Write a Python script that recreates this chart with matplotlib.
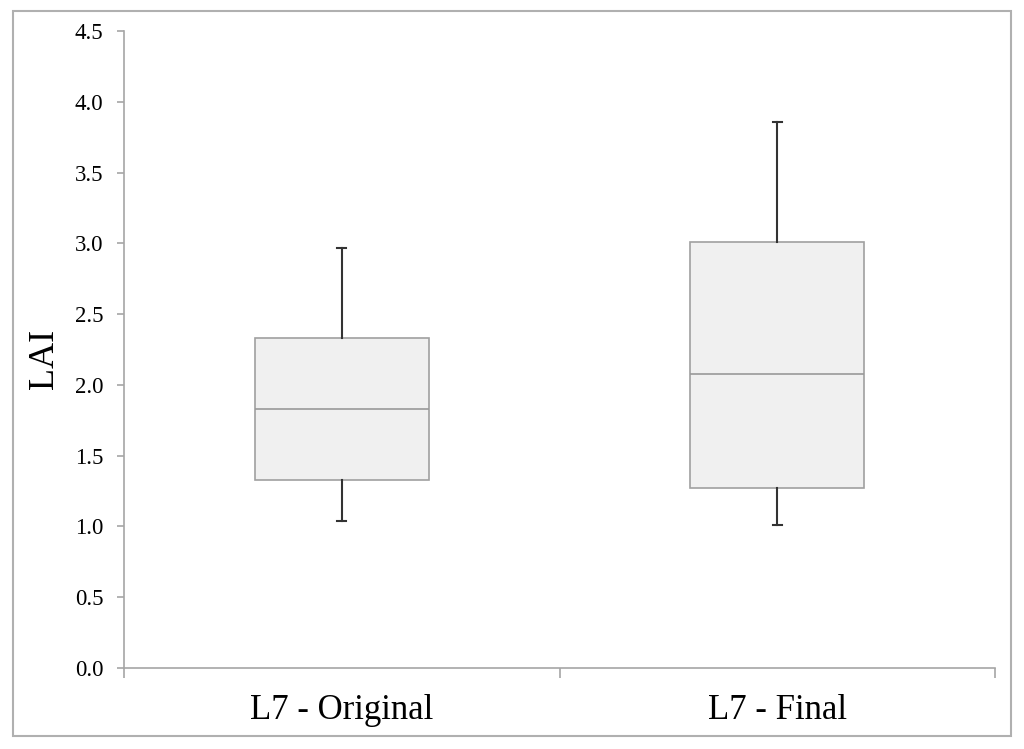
import matplotlib
matplotlib.use("Agg")
import matplotlib.pyplot as plt
from matplotlib.patches import Rectangle

plt.rcParams["font.family"] = ["Liberation Serif", "DejaVu Serif"]

# box statistics
categories = ["L7 - Original", "L7 - Final"]
whisker_low = [1.04, 1.01]
q1 = [1.33, 1.27]
median = [1.83, 2.08]
q3 = [2.33, 3.01]
whisker_high = [2.97, 3.86]

stats = []
for i, name in enumerate(categories):
    stats.append({"label": name, "whislo": whisker_low[i], "q1": q1[i],
                  "med": median[i], "q3": q3[i], "whishi": whisker_high[i],
                  "fliers": []})

fig = plt.figure(figsize=(10.24, 7.49), dpi=100)
ax = fig.add_axes([0.1211, 0.1081, 0.8506, 0.8505])

grey = "#a6a6a6"
ax.bxp(stats, positions=[1, 2], widths=0.4, capwidths=0.02, patch_artist=True,
       showfliers=False,
       boxprops=dict(facecolor="#f0f0f0", edgecolor="#a0a0a0", linewidth=1.2),
       medianprops=dict(color="#999999", linewidth=1.2),
       whiskerprops=dict(color="#333333", linewidth=1.5),
       capprops=dict(color="#333333", linewidth=1.5))

ax.set_xlim(0.5, 2.5)
ax.set_ylim(0, 4.5)
ax.set_yticks([i * 0.5 for i in range(10)])
ax.set_yticklabels(["%.1f" % (i * 0.5) for i in range(10)], fontsize=16.5)
ax.set_xticks([1, 2])
ax.set_xticklabels(categories, fontsize=25)
ax.set_xticks([0.5, 1.5, 2.5], minor=True)
ax.tick_params(axis="x", which="major", length=0, pad=19)
ax.tick_params(axis="x", which="minor", length=7, color=grey, width=1.2)
ax.tick_params(axis="y", length=5, color=grey, width=1.2, pad=10)

ax.set_ylabel("LAI", fontsize=26)
ax.yaxis.set_label_coords(-0.072, 0.485)

for s in ["top", "right"]:
    ax.spines[s].set_visible(False)
for s in ["left", "bottom"]:
    ax.spines[s].set_color(grey)
    ax.spines[s].set_linewidth(1.2)

# outer frame around the whole chart
fig.patches.append(Rectangle((0.0127, 0.0174), 0.9746, 0.9679, transform=fig.transFigure,
                             fill=False, edgecolor="#b0b0b0", linewidth=1.5))

fig.savefig("out.png", dpi=100)
